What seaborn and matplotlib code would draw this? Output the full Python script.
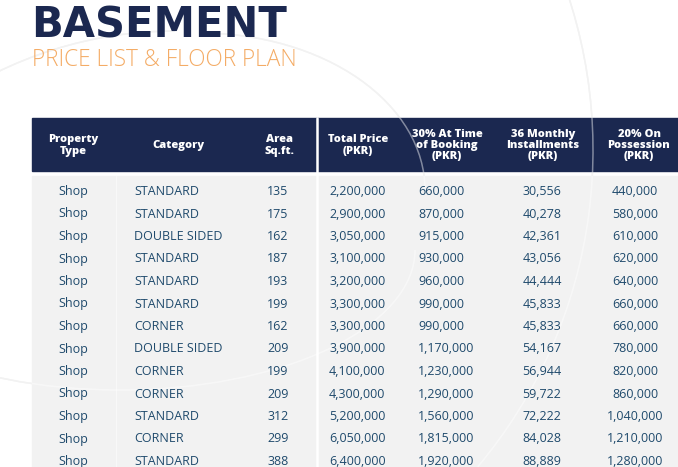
import matplotlib
matplotlib.use("Agg")
import matplotlib.pyplot as plt
from matplotlib.patches import Rectangle, Arc
import seaborn as sns

sns.set_theme(style="white")
plt.rcParams["font.family"] = ["Open Sans", "DejaVu Sans"]

# table data
headers = ["Property\nType", "Category", "Area\nSq.ft.", "Total Price\n(PKR)",
           "30% At Time\nof Booking\n(PKR)", "36 Monthly\nInstallments\n(PKR)",
           "20% On\nPossession\n(PKR)"]
prop_type = ["Shop"] * 13
category = ["STANDARD", "STANDARD", "DOUBLE SIDED", "STANDARD", "STANDARD",
            "STANDARD", "CORNER", "DOUBLE SIDED", "CORNER", "CORNER",
            "STANDARD", "CORNER", "STANDARD"]
area = [135, 175, 162, 187, 193, 199, 162, 209, 199, 209, 312, 299, 388]
total_price = [2200000, 2900000, 3050000, 3100000, 3200000, 3300000, 3300000,
               3900000, 4100000, 4300000, 5200000, 6050000, 6400000]
booking = [660000, 870000, 915000, 930000, 960000, 990000, 990000,
           1170000, 1230000, 1290000, 1560000, 1815000, 1920000]
monthly = [30556, 40278, 42361, 43056, 44444, 45833, 45833,
           54167, 56944, 59722, 72222, 84028, 88889]
possession = [440000, 580000, 610000, 620000, 640000, 660000, 660000,
              780000, 820000, 860000, 1040000, 1210000, 1280000]

navy = "#1b2850"
orange = "#f4ac66"
body_bg = "#f2f2f2"
txt = "#1f4a6c"

fig = plt.figure(figsize=(6.78, 4.67), dpi=100)
ax = fig.add_axes([0, 0, 1, 1])
ax.set_xlim(0, 678)
ax.set_ylim(467, 0)
ax.axis("off")

# faint decorative arcs: centre, width, height, theta1, theta2
arc_specs = [((175, 436), 810, 810, 200, 270),
             ((200, 190), 450, 314, 270, 360),
             ((100, 150), 986, 986, 270, 400),
             ((120, 250), 590, 280, 0, 180)]
for (cx, cy), w, h, t1, t2 in arc_specs:
    ax.add_patch(Arc((cx, cy), w, h, theta1=t1, theta2=t2,
                     color="#e8e8e8", lw=1.1, zorder=0))

# title
ax.text(31, 25, "BASEMENT", fontsize=30, fontweight="bold", color=navy,
        va="center", ha="left", family="DejaVu Sans")
ax.text(32, 60, "PRICE LIST & FLOOR PLAN", fontsize=16.3, fontweight="light",
        color=orange, va="center", ha="left")

# header band and body
ax.add_patch(Rectangle((32, 118), 660, 53, color=navy, zorder=1))
ax.add_patch(Rectangle((32, 176), 660, 300, color=body_bg, zorder=1))
for (cx, cy), w, h, t1, t2 in arc_specs:
    ax.add_patch(Arc((cx, cy), w, h, theta1=t1, theta2=t2,
                     color="white", lw=1.1, alpha=0.45, zorder=2))
ax.plot([316.5, 316.5], [118, 467], color="white", lw=1.8, zorder=2)
ax.plot([116, 116], [176, 467], color="white", lw=0.8, alpha=0.5, zorder=2)

head_x = [73, 178, 279, 358, 447, 543, 639]
for hx, h in zip(head_x, headers):
    ax.text(hx, 145.5, h, color="white", fontsize=8, fontweight="heavy",
            ha="center", va="center", linespacing=1.05, zorder=3)

# body rows
cols = [
    (prop_type, 73, "center", str),
    (category, 134, "left", str),
    (area, 278, "center", str),
    (total_price, 329, "left", lambda v: f"{v:,}"),
    (booking, 418, "left", lambda v: f"{v:,}"),
    (monthly, 542, "center", lambda v: f"{v:,}"),
    (possession, 635, "center", lambda v: f"{v:,}"),
]
row_y0, row_h = 191.5, 22.5
for vals, x, ha, fmt in cols:
    for i, v in enumerate(vals):
        ax.text(x, row_y0 + i * row_h, fmt(v), color=txt, fontsize=9,
                ha=ha, va="center", zorder=3)

fig.savefig("out.png", dpi=100)
